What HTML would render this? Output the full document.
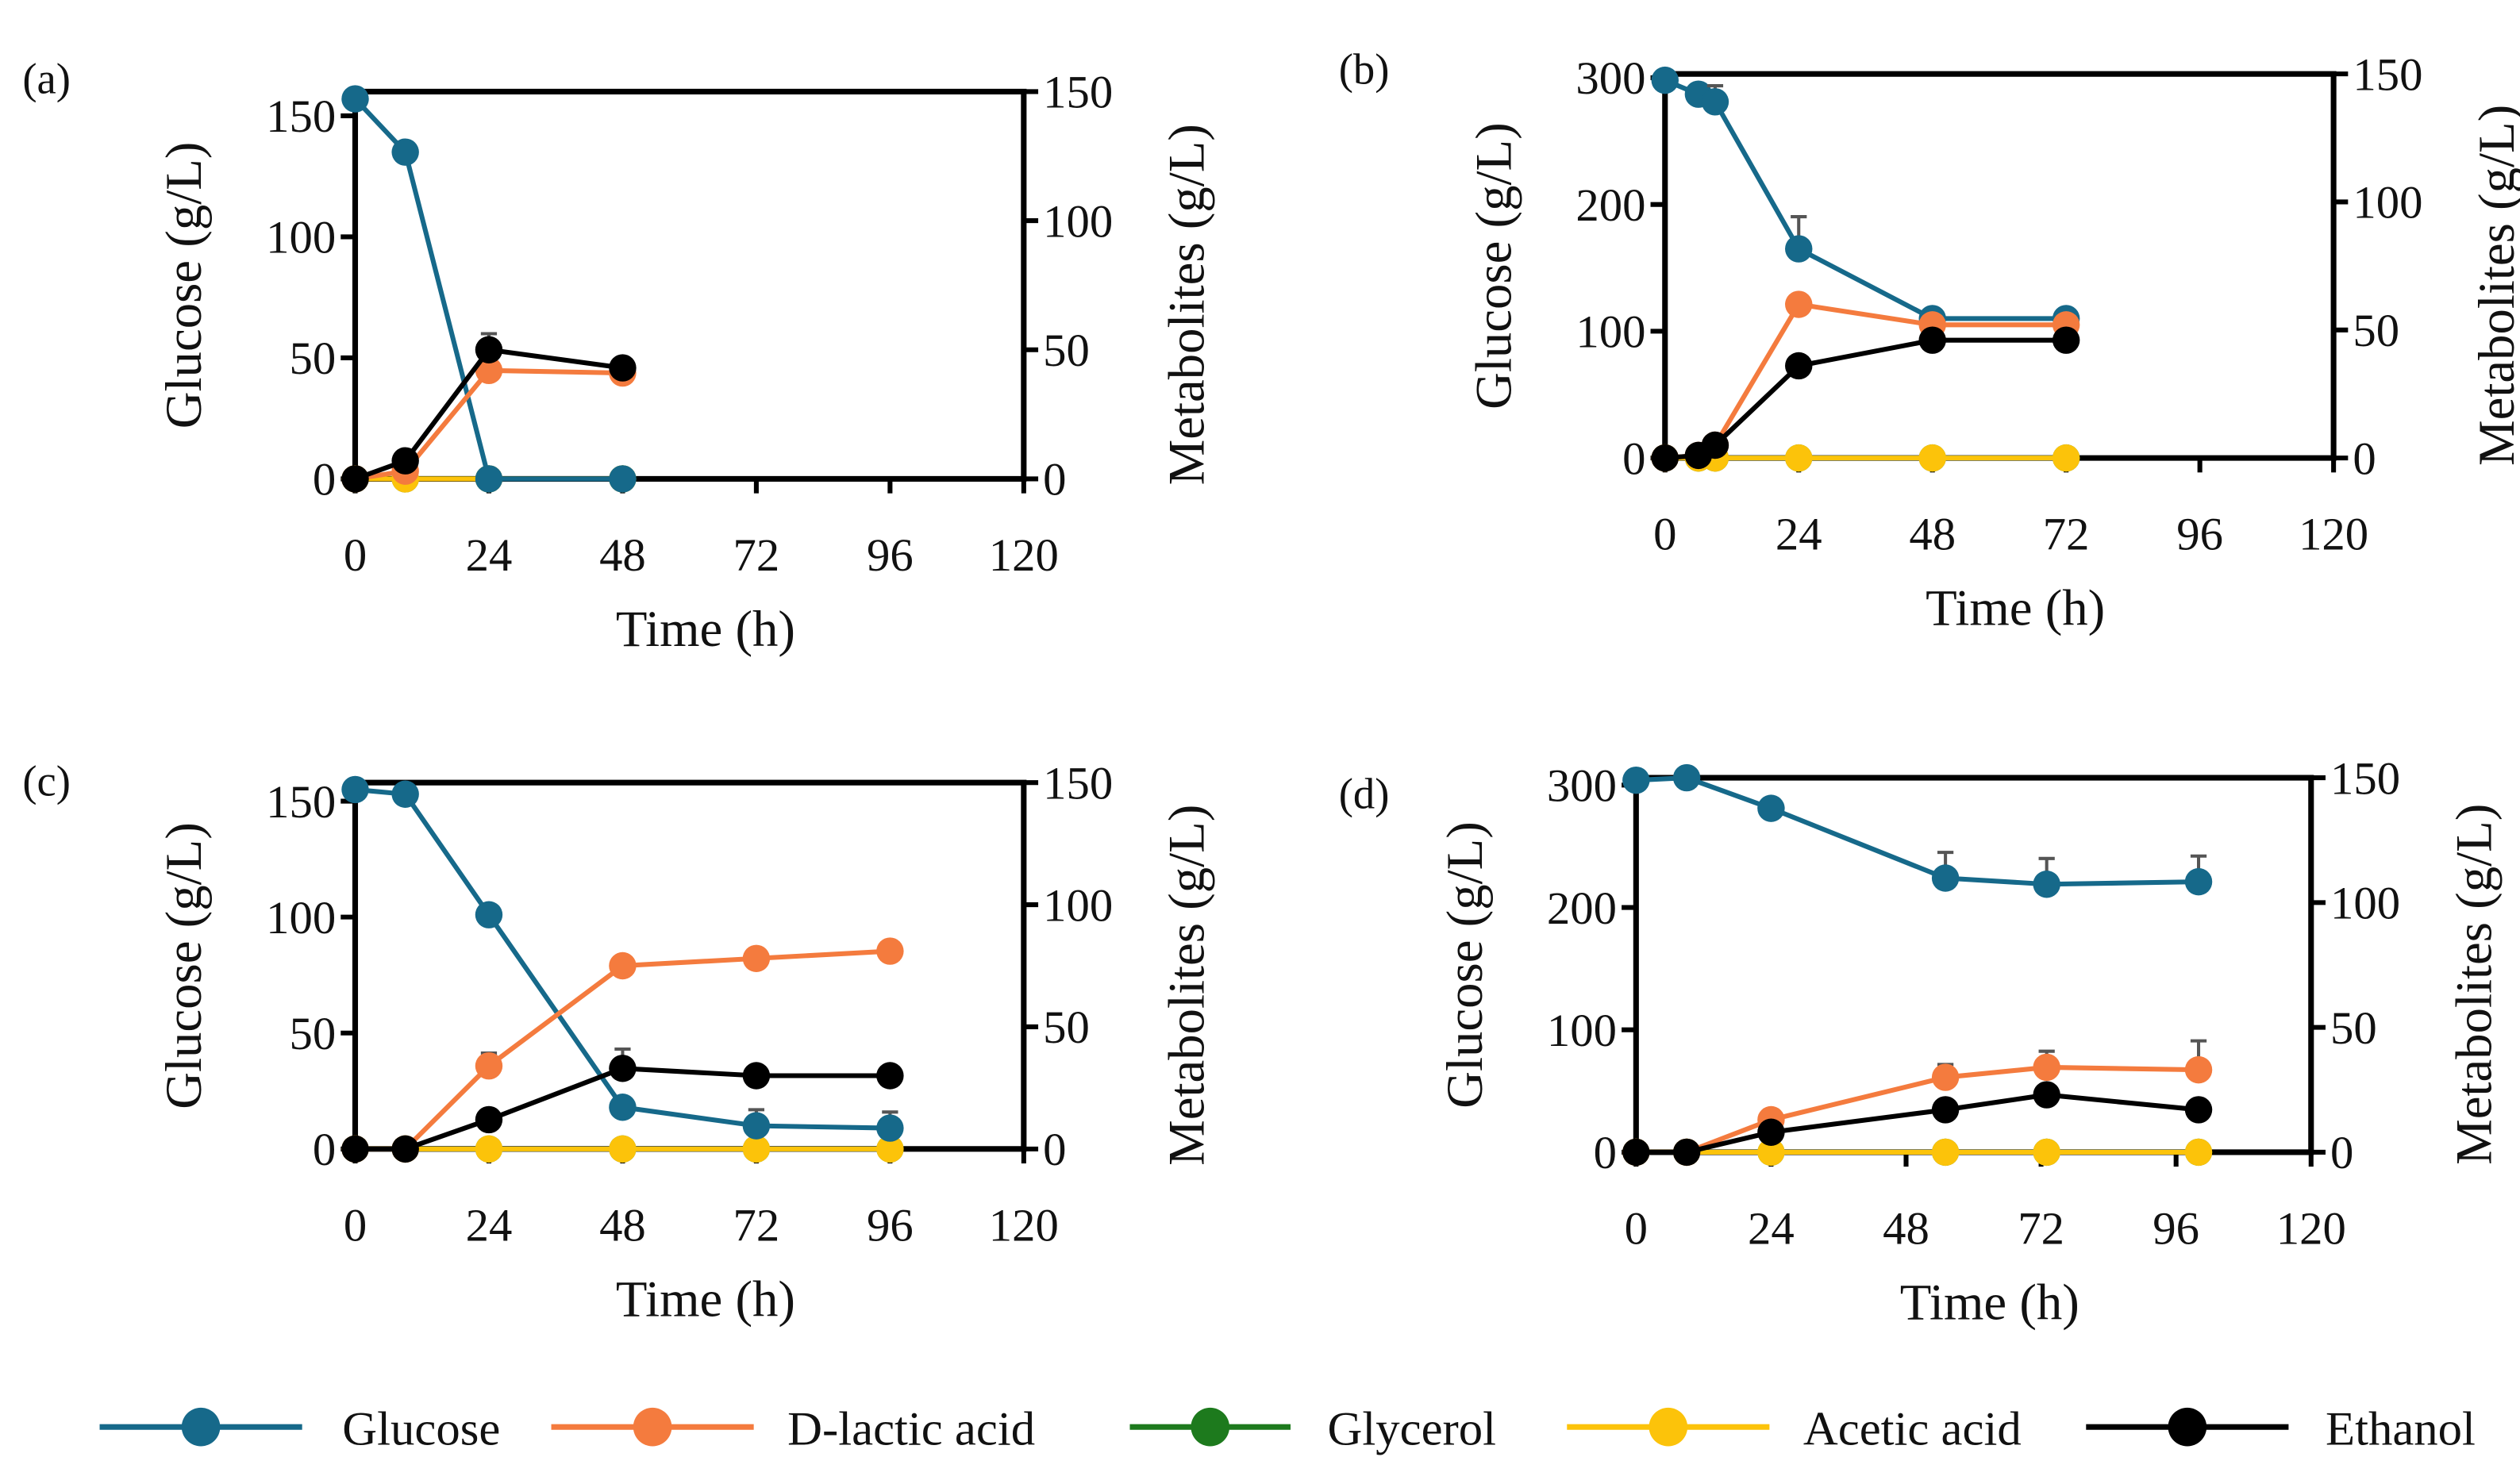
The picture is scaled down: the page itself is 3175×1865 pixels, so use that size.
<!DOCTYPE html>
<html><head><meta charset="utf-8"><style>
html,body{margin:0;padding:0;background:#fff}
svg{display:block}
text{font-family:"Liberation Serif",serif;fill:#111}
</style></head><body>
<svg id="fig" width="3175" height="1865" viewBox="0 0 1568 921" preserveAspectRatio="none" xmlns="http://www.w3.org/2000/svg"></svg>
<script>
// ---- data ----
const timeA = [0, 9, 24, 48];
const glucoseA = [157, 135, 0, 0];
const lacticA = [0, 3, 42, 41];
const glycerolA = [0, 0, 0, 0];
const aceticA = [0, 0, 0, 0];
const ethanolA = [0, 7, 50, 43];

const timeB = [0, 6, 9, 24, 48, 72];
const glucoseB = [298, 287, 281, 165, 110, 110];
const lacticB = [0, 1, 5, 60, 52, 52];
const glycerolB = [0, 0, 0, 0, 0, 0];
const aceticB = [0, 0, 0, 0, 0, 0];
const ethanolB = [0, 1, 5, 36, 46, 46];

const timeC = [0, 9, 24, 48, 72, 96];
const glucoseC = [155, 153, 101, 18, 10, 9];
const lacticC = [0, 0, 34, 75, 78, 81];
const glycerolC = [0, 0, 0, 0, 0, 0];
const aceticC = [0, 0, 0, 0, 0, 0];
const ethanolC = [0, 0, 12, 33, 30, 30];

const timeD = [0, 9, 24, 55, 73, 100];
const glucoseD = [304, 306, 281, 224, 219, 221];
const lacticD = [0, 0, 13, 30, 34, 33];
const glycerolD = [0, 0, 0, 0, 0, 0];
const aceticD = [0, 0, 0, 0, 0, 0];
const ethanolD = [0, 0, 8, 17, 23, 17];

const xTicks = [0, 24, 48, 72, 96, 120];
const rightTicks = [0, 50, 100, 150];
const leftTicks150 = [0, 50, 100, 150];
const leftTicks300 = [0, 100, 200, 300];
const legendLabels = ["Glucose", "D-lactic acid", "Glycerol", "Acetic acid", "Ethanol"];

const COL = {glucose:"#16698a", lactic:"#f47b3e", glycerol:"#1d7a1d", acetic:"#fcc30a", ethanol:"#000"};
const NS = "http://www.w3.org/2000/svg";
const svg = document.getElementById("fig");
function mk(tag, attrs, parent){
  const e = document.createElementNS(NS, tag);
  for (const k in attrs) e.setAttribute(k, attrs[k]);
  (parent||svg).appendChild(e);
  return e;
}

function panel(p){
  const g = mk("g", {});
  
  
  const X = v => p.x0 + (v/120)*(p.x1-p.x0);
  const YL = v => p.yb - (v/p.lmax)*(p.yb-p.yt);
  const YR = v => p.yb - (v/150)*(p.yb-p.yt);
  const fr = mk("path", {d:`M${p.x0},${p.yb} V${p.yt} H${p.x1} V${p.yb} H${p.x0}`, fill:"none", stroke:"#000", "stroke-width":3.5}, g);
  
  
  xTicks.forEach(t=>{
    mk("line",{x1:X(t),x2:X(t),y1:p.yb,y2:p.yb+9,stroke:"#000","stroke-width":3},g);
    const tx = mk("text",{x:X(t),y:p.yb+57,"text-anchor":"middle","font-size":29},g);
    tx.textContent = t;
    
    
  });
  p.lticks.forEach(t=>{
    mk("line",{x1:p.x0-9,x2:p.x0,y1:YL(t),y2:YL(t),stroke:"#000","stroke-width":3},g);
    const tx = mk("text",{x:p.x0-12,y:YL(t)+10,"text-anchor":"end","font-size":29},g);
    tx.textContent = t;
    
    
  });
  rightTicks.forEach(t=>{
    mk("line",{x1:p.x1,x2:p.x1+9,y1:YR(t),y2:YR(t),stroke:"#000","stroke-width":3},g);
    const tx = mk("text",{x:p.x1+12,y:YR(t)+10,"text-anchor":"start","font-size":29},g);
    tx.textContent = t;
    
    
  });
  const xt = mk("text",{x:(p.x0+p.x1)/2+10,y:p.yb+104,"text-anchor":"middle","font-size":32},g);
  xt.textContent = "Time (h)";
  
  
  const my = (p.yt+p.yb)/2;
  const lt = mk("text",{x:0,y:0,"text-anchor":"middle","font-size":32,transform:`translate(${p.x0-96},${my}) rotate(-90)`},g);
  lt.textContent = "Glucose (g/L)";
  
  
  const rt = mk("text",{x:0,y:0,"text-anchor":"middle","font-size":32,transform:`translate(${p.x1+112},${my+12}) rotate(-90)`},g);
  rt.textContent = "Metabolites (g/L)";
  
  
  const lb = mk("text",{x:p.lx,y:p.ly,"font-size":27},g);
  lb.textContent = "(" + p.id + ")";
  
  
  const series = [
    ["glycerol", p.gly, YR], ["acetic", p.ace, YR], ["glucose", p.glu, YL],
    ["lactic", p.lac, YR], ["ethanol", p.eth, YR]
  ];
  series.forEach(([name, vals, Y])=>{
    const sg = mk("g",{},g);
    
    
    const pts = vals.map((v,i)=>X(p.t[i])+","+Y(v)).join(" ");
    mk("polyline",{points:pts,fill:"none",stroke:COL[name],"stroke-width":3},sg);
    vals.forEach((v,i)=>{
      if (p.err && p.err[name] && p.err[name][i]){
        const e = p.err[name][i];
        mk("path",{d:`M${X(p.t[i])},${Y(v)} V${Y(v)-e} M${X(p.t[i])-5},${Y(v)-e} H${X(p.t[i])+5}`,stroke:"#555","stroke-width":2,fill:"none"},sg);
      }
      const c = mk("circle",{cx:X(p.t[i]),cy:Y(v),r:8.5,fill:COL[name]},sg);
      
      
    });
  });
}

panel({id:"a",x0:221,x1:637,yt:57,yb:298,lmax:160,lticks:leftTicks150,t:timeA,glu:glucoseA,lac:lacticA,gly:glycerolA,ace:aceticA,eth:ethanolA,lx:14,ly:58,
  err:{ethanol:[0,0,10,0]}});
panel({id:"b",x0:1036,x1:1452,yt:46,yb:285,lmax:303,lticks:leftTicks300,t:timeB,glu:glucoseB,lac:lacticB,gly:glycerolB,ace:aceticB,eth:ethanolB,lx:833,ly:52,
  err:{glucose:[0,0,10,20,0,0]}});
panel({id:"c",x0:221,x1:637,yt:487,yb:715,lmax:158,lticks:leftTicks150,t:timeC,glu:glucoseC,lac:lacticC,gly:glycerolC,ace:aceticC,eth:ethanolC,lx:14,ly:495,
  err:{glucose:[0,0,0,0,10,10],ethanol:[0,0,0,12,0,0],lactic:[0,0,8,0,0,0]}});
panel({id:"d",x0:1018,x1:1438,yt:484,yb:717,lmax:306,lticks:leftTicks300,t:timeD,glu:glucoseD,lac:lacticD,gly:glycerolD,ace:aceticD,eth:ethanolD,lx:833,ly:503,
  err:{glucose:[0,0,0,16,16,16],lactic:[0,0,6,8,10,18]}});

const legX = [62, 343, 703, 975, 1298];
const legW = [126, 126, 100, 126, 126];
const legTx = [213, 490, 826, 1122, 1447];
const legKeys = ["glucose","lactic","glycerol","acetic","ethanol"];
legKeys.forEach((k,i)=>{
  const lg = mk("g",{});
  
  
  mk("line",{x1:legX[i],x2:legX[i]+legW[i],y1:888,y2:888,stroke:COL[k],"stroke-width":3.5},lg);
  mk("circle",{cx:legX[i]+legW[i]/2,cy:888,r:12,fill:COL[k]},lg);
  const t = mk("text",{x:legTx[i],y:899,"font-size":30},lg);
  t.textContent = legendLabels[i];
});
</script>
</body></html>
